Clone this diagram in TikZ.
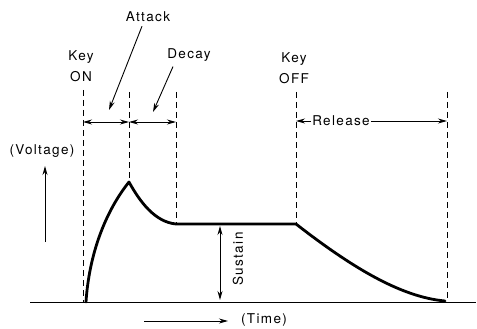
\documentclass[tikz,border=0pt]{standalone}
\usepackage{fontspec}
\setmainfont{TeX Gyre Heros}[LetterSpace=10]
\usetikzlibrary{positioning,arrows.meta}
\tikzset{%
  tip/.tip = {Stealth[length=9pt,width=5pt]},
  guide/.style = {dash pattern=on 6pt off 4pt, line width=1pt},
  env/.style = {line width=2.8pt, line join=round, line cap=round},
  span/.style = {tip-tip, line width=0.9pt},
  pointer/.style = {-tip, line width=0.9pt},
  lbl/.style = {font=\fontsize{13.5}{16}\selectfont, inner sep=1pt}
}

\begin{document}
\begin{tikzpicture}[x=1pt,y=-1pt]
\useasboundingbox (0,0) rectangle (477,329);

% key points
\coordinate (ontop) at (83,90);
\coordinate (onbot) at (83,302);
\coordinate (atop) at (129,92);
\coordinate (peak) at (129,182);
\coordinate (dtop) at (176,92);
\coordinate (dend) at (176,224);
\coordinate (offtop) at (296,92);
\coordinate (offend) at (296,224);
\coordinate (rtop) at (447,92);
\coordinate (rbot) at (447,302);
\coordinate (start) at (86,302);
\coordinate (stop) at (445,301);
\coordinate (base0) at (30,302);
\coordinate (base1) at (476,302);

% guides
\draw[guide] (ontop) -- (onbot);
\draw[guide] (atop) -- (peak);
\draw[guide] (dtop) -- (dend);
\draw[guide] (offtop) -- (offend);
\draw[guide] (rtop) -- (rbot);

% base line
\draw[line width=1pt] (base0) -- (base1);

% envelope
\draw[env] (start) .. controls (89,255) and (105,212) .. (peak)
  .. controls (140,202) and (155,222) .. (dend) -- (offend)
  .. controls (350,266) and (400,297) .. (stop);

% spans
\coordinate (s0) at (83,122);
\coordinate (s1) at (129,122);
\coordinate (s2) at (176,122);
\draw[span] (s0) -- (s1);
\draw[span] (s1) -- (s2);

\node[lbl] (rel) at (341,121) {Release};
\coordinate (r0) at (296,121);
\coordinate (r1) at (447,121);
\draw[pointer] (rel.west) -- (r0);
\draw[pointer] (rel.east) -- (r1);

% labels
\node[lbl] (attack) at (148,17) {Attack};
\node[lbl] (decay) at (189,55) {Decay};
\node[lbl] (key1) at (81,57) {Key};
\node[lbl, below=6pt of key1] (on) {ON};
\node[lbl] (key2) at (294,59) {Key};
\node[lbl, below=6pt of key2] (off) {OFF};
\node[lbl] (volt) at (42,151) {(Voltage)};
\node[lbl] (time) at (264,320) {(Time)};
\node[lbl, rotate=90] (sus) at (238,259) {Sustain};

% pointers
\coordinate (atip) at (109,110);
\coordinate (dtip) at (153,112);
\draw[pointer] (attack.south) ++(-6,3) coordinate (afoot) -- (atip);
\draw[pointer] (decay.south) ++(-16,4) coordinate (dfoot) -- (dtip);

% sustain level
\coordinate (su0) at (220,226);
\coordinate (su1) at (220,300);
\draw[span] (su0) -- (su1);

% axes arrows
\coordinate (v0) at (45,242);
\coordinate (v1) at (45,166);
\coordinate (t0) at (144,321);
\coordinate (t1) at (228,321);
\draw[pointer] (v0) -- (v1);
\draw[pointer] (t0) -- (t1);
\end{tikzpicture}
\end{document}
